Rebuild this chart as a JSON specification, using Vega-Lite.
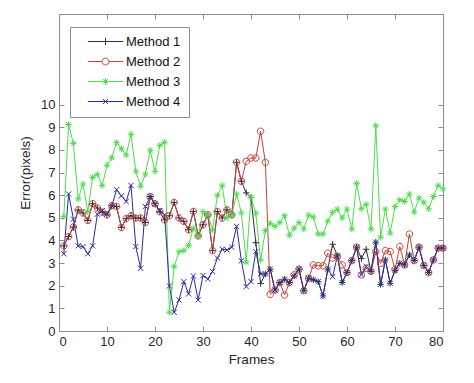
{
  "$schema": "https://vega.github.io/schema/vega-lite/v6.json",
  "width": 384,
  "height": 317,
  "autosize": {"type": "none"},
  "padding": {"left": 59, "top": 14, "right": 31, "bottom": 52},
  "background": "white",
  "config": {
    "view": {"stroke": null},
    "font": "Liberation Sans",
    "axis": {
      "grid": false,
      "domainColor": "#8c8c8c",
      "tickColor": "#8c8c8c",
      "tickSize": -5,
      "labelFontSize": 13,
      "labelColor": "#262626",
      "titleFontSize": 13.5,
      "titleFontWeight": "normal",
      "titleColor": "#262626"
    }
  },
  "data": {"values": [
    {"f":1,"Method 1":3.76,"Method 2":3.76,"Method 3":5.06,"Method 4":3.41},
    {"f":2,"Method 1":4.17,"Method 2":4.17,"Method 3":9.12,"Method 4":6.05},
    {"f":3,"Method 1":4.59,"Method 2":4.59,"Method 3":8.28,"Method 4":4.94},
    {"f":4,"Method 1":5.35,"Method 2":5.35,"Method 3":5.84,"Method 4":3.76},
    {"f":5,"Method 1":5.21,"Method 2":5.21,"Method 3":6.49,"Method 4":3.73},
    {"f":6,"Method 1":4.88,"Method 2":4.88,"Method 3":5.27,"Method 4":3.41},
    {"f":7,"Method 1":5.62,"Method 2":5.62,"Method 3":6.78,"Method 4":3.76},
    {"f":8,"Method 1":5.43,"Method 2":5.43,"Method 3":6.92,"Method 4":5.16},
    {"f":9,"Method 1":5.25,"Method 2":5.25,"Method 3":6.42,"Method 4":5.31},
    {"f":10,"Method 1":5.13,"Method 2":5.13,"Method 3":7.32,"Method 4":5.16},
    {"f":11,"Method 1":5.53,"Method 2":5.53,"Method 3":7.65,"Method 4":5.53},
    {"f":12,"Method 1":5.5,"Method 2":5.5,"Method 3":8.32,"Method 4":6.24},
    {"f":13,"Method 1":4.57,"Method 2":4.57,"Method 3":8.05,"Method 4":5.97},
    {"f":14,"Method 1":4.96,"Method 2":4.96,"Method 3":7.77,"Method 4":5.72},
    {"f":15,"Method 1":5.09,"Method 2":5.09,"Method 3":8.69,"Method 4":6.43},
    {"f":16,"Method 1":4.99,"Method 2":4.99,"Method 3":7.06,"Method 4":3.73},
    {"f":17,"Method 1":4.99,"Method 2":4.99,"Method 3":6.39,"Method 4":2.77},
    {"f":18,"Method 1":4.79,"Method 2":4.79,"Method 3":6.93,"Method 4":5.5},
    {"f":19,"Method 1":5.94,"Method 2":5.94,"Method 3":7.98,"Method 4":5.94},
    {"f":20,"Method 1":5.62,"Method 2":5.62,"Method 3":7.05,"Method 4":5.6},
    {"f":21,"Method 1":5.27,"Method 2":5.27,"Method 3":8.2,"Method 4":5.32},
    {"f":22,"Method 1":4.91,"Method 2":4.91,"Method 3":8.33,"Method 4":5.13},
    {"f":23,"Method 1":5.09,"Method 2":5.09,"Method 3":0.83,"Method 4":1.99},
    {"f":24,"Method 1":5.68,"Method 2":5.68,"Method 3":2.85,"Method 4":0.83},
    {"f":25,"Method 1":4.99,"Method 2":4.99,"Method 3":3.5,"Method 4":1.37},
    {"f":26,"Method 1":4.84,"Method 2":4.84,"Method 3":3.55,"Method 4":2.18},
    {"f":27,"Method 1":4.47,"Method 2":4.47,"Method 3":3.78,"Method 4":1.64},
    {"f":28,"Method 1":5.28,"Method 2":5.28,"Method 3":4.54,"Method 4":2.43},
    {"f":29,"Method 1":4.2,"Method 2":4.2,"Method 3":4.19,"Method 4":1.37},
    {"f":30,"Method 1":4.69,"Method 2":4.69,"Method 3":5.27,"Method 4":2.45},
    {"f":31,"Method 1":5.13,"Method 2":5.13,"Method 3":5.13,"Method 4":2.3},
    {"f":32,"Method 1":3.55,"Method 2":3.55,"Method 3":4.47,"Method 4":2.63},
    {"f":33,"Method 1":5.28,"Method 2":5.28,"Method 3":5.99,"Method 4":3.22},
    {"f":34,"Method 1":4.99,"Method 2":4.99,"Method 3":6.43,"Method 4":3.61},
    {"f":35,"Method 1":5.35,"Method 2":5.35,"Method 3":4.99,"Method 4":3.58},
    {"f":36,"Method 1":5.13,"Method 2":5.13,"Method 3":5.12,"Method 4":3.7},
    {"f":37,"Method 1":7.45,"Method 2":7.45,"Method 3":6.05,"Method 4":4.62},
    {"f":38,"Method 1":6.61,"Method 2":6.61,"Method 3":5.21,"Method 4":3.1},
    {"f":39,"Method 1":6.1,"Method 2":7.49,"Method 3":3.04,"Method 4":1.96},
    {"f":40,"Method 1":5.9,"Method 2":7.64,"Method 3":5.9,"Method 4":2.18},
    {"f":41,"Method 1":3.9,"Method 2":7.64,"Method 3":5.21,"Method 4":3.51},
    {"f":42,"Method 1":2.1,"Method 2":8.82,"Method 3":3.14,"Method 4":2.52},
    {"f":43,"Method 1":2.52,"Method 2":7.45,"Method 3":4.44,"Method 4":2.52},
    {"f":44,"Method 1":2.73,"Method 2":1.62,"Method 3":4.76,"Method 4":2.73},
    {"f":45,"Method 1":1.81,"Method 2":1.81,"Method 3":4.62,"Method 4":1.81},
    {"f":46,"Method 1":2.14,"Method 2":2.14,"Method 3":4.79,"Method 4":2.14},
    {"f":47,"Method 1":2.29,"Method 2":1.59,"Method 3":5.09,"Method 4":2.29},
    {"f":48,"Method 1":2.14,"Method 2":2.14,"Method 3":4.23,"Method 4":2.14},
    {"f":49,"Method 1":2.43,"Method 2":2.48,"Method 3":4.54,"Method 4":2.43},
    {"f":50,"Method 1":2.73,"Method 2":2.73,"Method 3":4.79,"Method 4":2.73},
    {"f":51,"Method 1":1.78,"Method 2":1.78,"Method 3":4.5,"Method 4":1.78},
    {"f":52,"Method 1":2.33,"Method 2":2.33,"Method 3":5.12,"Method 4":2.33},
    {"f":53,"Method 1":2.26,"Method 2":2.92,"Method 3":5.03,"Method 4":2.26},
    {"f":54,"Method 1":2.18,"Method 2":2.88,"Method 3":4.28,"Method 4":2.18},
    {"f":55,"Method 1":1.55,"Method 2":2.88,"Method 3":4.28,"Method 4":1.55},
    {"f":56,"Method 1":2.73,"Method 2":3.44,"Method 3":4.85,"Method 4":2.73},
    {"f":57,"Method 1":3.83,"Method 2":3.22,"Method 3":5.24,"Method 4":2.4},
    {"f":58,"Method 1":3.32,"Method 2":3.29,"Method 3":5.38,"Method 4":3.32},
    {"f":59,"Method 1":2.14,"Method 2":2.92,"Method 3":4.99,"Method 4":2.14},
    {"f":60,"Method 1":2.58,"Method 2":2.58,"Method 3":5.38,"Method 4":2.58},
    {"f":61,"Method 1":3.11,"Method 2":3.11,"Method 3":4.5,"Method 4":3.11},
    {"f":62,"Method 1":3.7,"Method 2":3.7,"Method 3":6.52,"Method 4":3.7},
    {"f":63,"Method 1":3.2,"Method 2":2.48,"Method 3":5.4,"Method 4":2.48},
    {"f":64,"Method 1":3.61,"Method 2":2.77,"Method 3":5.59,"Method 4":2.85},
    {"f":65,"Method 1":2.63,"Method 2":2.63,"Method 3":4.5,"Method 4":2.63},
    {"f":66,"Method 1":3.92,"Method 2":3.51,"Method 3":9.07,"Method 4":3.92},
    {"f":67,"Method 1":2.06,"Method 2":2.99,"Method 3":4.14,"Method 4":2.06},
    {"f":68,"Method 1":3.14,"Method 2":3.55,"Method 3":5.38,"Method 4":3.14},
    {"f":69,"Method 1":2.11,"Method 2":3.51,"Method 3":4.32,"Method 4":2.11},
    {"f":70,"Method 1":2.67,"Method 2":2.73,"Method 3":5.5,"Method 4":2.67},
    {"f":71,"Method 1":2.99,"Method 2":3.73,"Method 3":5.8,"Method 4":2.99},
    {"f":72,"Method 1":2.92,"Method 2":2.92,"Method 3":5.72,"Method 4":2.92},
    {"f":73,"Method 1":3.36,"Method 2":4.28,"Method 3":6.05,"Method 4":3.36},
    {"f":74,"Method 1":3.11,"Method 2":3.11,"Method 3":5.25,"Method 4":3.11},
    {"f":75,"Method 1":3.7,"Method 2":3.7,"Method 3":5.87,"Method 4":3.7},
    {"f":76,"Method 1":2.89,"Method 2":2.89,"Method 3":5.68,"Method 4":2.89},
    {"f":77,"Method 1":2.58,"Method 2":2.58,"Method 3":5.4,"Method 4":2.58},
    {"f":78,"Method 1":3.14,"Method 2":3.14,"Method 3":5.94,"Method 4":3.14},
    {"f":79,"Method 1":3.66,"Method 2":3.66,"Method 3":6.43,"Method 4":3.66},
    {"f":80,"Method 1":3.66,"Method 2":3.66,"Method 3":6.27,"Method 4":3.66}
  ]},
  "transform": [{"fold": ["Method 1", "Method 2", "Method 3", "Method 4"], "as": ["method", "value"]}],
  "layer": [
    {
      "mark": {"type": "line", "strokeWidth": 1},
      "encoding": {
        "x": {"field": "f", "type": "quantitative", "scale": {"domain": [0, 80], "nice": false},
              "axis": {"orient": "bottom", "values": [0,10,20,30,40,50,60,70,80], "title": "Frames", "labelPadding": 9, "titlePadding": 4}},
        "y": {"field": "value", "type": "quantitative", "scale": {"domain": [0, 14], "nice": false},
              "axis": {"orient": "left", "values": [0,1,2,3,4,5,6,7,8,9,10], "title": "Error(pixels)", "labelPadding": 9, "titlePadding": 8}},
        "color": {"field": "method", "type": "nominal",
                  "scale": {"domain": ["Method 1", "Method 2", "Method 3", "Method 4"], "range": ["#2e2e3a", "#c0443c", "#4fdc4f", "#2a2a9e"]},
                  "legend": null}
      }
    },
    {
      "mark": {"type": "point", "filled": false, "strokeWidth": 1, "size": 42, "opacity": 1},
      "encoding": {
        "x": {"field": "f", "type": "quantitative", "axis": null},
        "y": {"field": "value", "type": "quantitative", "axis": null},
        "color": {"field": "method", "type": "nominal",
                  "scale": {"domain": ["Method 1", "Method 2", "Method 3", "Method 4"], "range": ["#2e2e3a", "#c0443c", "#4fdc4f", "#2a2a9e"]},
                  "legend": null},
        "shape": {"field": "method", "type": "nominal",
                  "scale": {"domain": ["Method 1", "Method 2", "Method 3", "Method 4"],
                            "range": ["M-1,0H1M0,-1V1", "M1,0A1,1 0 1,1 -1,0A1,1 0 1,1 1,0", "M-1,0H1M0,-1V1M-0.7,-0.7L0.7,0.7M0.7,-0.7L-0.7,0.7", "M-0.8,-0.8L0.8,0.8M0.8,-0.8L-0.8,0.8"]},
                  "legend": null}
      }
    },
    {
      "transform": [{"filter": "datum.f > 1000"}],
      "mark": {"type": "point", "filled": false, "strokeWidth": 1, "opacity": 1},
      "encoding": {
        "x": {"field": "f", "type": "quantitative",
              "axis": {"orient": "top", "values": [0,10,20,30,40,50,60,70,80], "labels": false, "title": null}},
        "y": {"field": "value", "type": "quantitative",
              "axis": {"orient": "right", "values": [0,1,2,3,4,5,6,7,8,9,10], "labels": false, "title": null}},
        "color": {"field": "method", "type": "nominal",
                  "scale": {"domain": ["Method 1", "Method 2", "Method 3", "Method 4"], "range": ["#2e2e3a", "#c0443c", "#4fdc4f", "#2a2a9e"]},
                  "legend": {"title": null}},
        "shape": {"field": "method", "type": "nominal",
                  "scale": {"domain": ["Method 1", "Method 2", "Method 3", "Method 4"],
                            "range": ["M-4.4,0H4.4M0,-0.9V0.9", "M-4.4,0H-0.85M0.85,0H4.4M0.85,0A0.85,0.85 0 1,1 -0.85,0A0.85,0.85 0 1,1 0.85,0", "M-4.4,0H4.4M0,-0.85V0.85M-0.6,-0.6L0.6,0.6M0.6,-0.6L-0.6,0.6", "M-4.4,0H4.4M-0.6,-0.6L0.6,0.6M0.6,-0.6L-0.6,0.6"]},
                  "legend": {
                    "title": null,
                    "orient": "none",
                    "legendX": 11,
                    "legendY": 13,
                    "padding": 8,
                    "symbolSize": 64,
                    "symbolOffset": 21,
                    "labelOffset": 14,
                    "symbolStrokeWidth": 1,
                    "labelFontSize": 13,
                    "labelColor": "#111111",
                    "rowPadding": 6,
                    "strokeColor": "#8c8c8c",
                    "fillColor": "white"
                  }}
      }
    }
  ],
  "resolve": {
    "scale": {"shape": "independent", "color": "independent"},
    "axis": {"x": "independent", "y": "independent"}
  }
}
